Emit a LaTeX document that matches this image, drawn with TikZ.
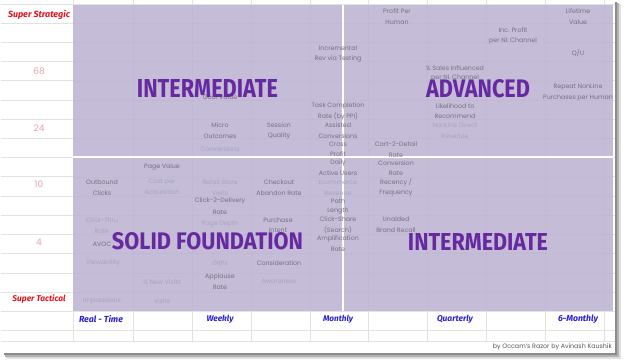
\documentclass[tikz,border=0pt]{standalone}
\usepackage{fontspec}
\setmainfont{Poppins}
\newfontfamily\brushfont{Fira Sans}
\newfontfamily\handfont{Fira Sans}
\usetikzlibrary{positioning}

\definecolor{quad}{HTML}{C5BCD8}
\definecolor{quadgrid}{HTML}{B7ADCB}
\definecolor{metric}{HTML}{77707F}
\definecolor{faint}{HTML}{A3A6C0}
\definecolor{bigpurple}{HTML}{6629A0}
\definecolor{tacred}{HTML}{E3131C}
\definecolor{scorepink}{HTML}{E6A2AB}
\definecolor{freqblue}{HTML}{2B22CF}
\definecolor{sheetgrid}{HTML}{E2E2E2}
\definecolor{credit}{HTML}{555555}

\tikzset{
  metric/.style={text=metric, font=\fontsize{6.3}{7}\selectfont, inner sep=0pt},
  faintmetric/.style={metric, text=faint},
  bigword/.style={text=bigpurple, inner sep=0pt},
  scalelabel/.style={text=tacred, inner sep=0pt},
  scorelabel/.style={text=scorepink, font=\fontsize{9}{9}\selectfont, inner sep=0pt},
  freqlabel/.style={text=freqblue, inner sep=0pt},
}

% one metric name per line of a cell
\newcommand{\mtr}[4]{\node[metric] (#1) at (#2,#3) {#4};}
\newcommand{\fmtr}[4]{\node[faintmetric] (#1) at (#2,#3) {#4};}

\begin{document}
\begin{tikzpicture}[x=1pt,y=-1pt]
\useasboundingbox (0,0) rectangle (625,361);
\fill[white] (0,0) rectangle (625,361);

% sheet with its drop shadow
\fill[black!12] (6,4) rectangle (621,359);
\fill[black!30] (5,3) rectangle (619,357);
\fill[black!45] (4,2) rectangle (617,355);
\fill[white] (1,0) rectangle (615,353);

% spreadsheet cell grid
\foreach \k in {0,...,16} {
  \draw[sheetgrid, line width=0.6pt] (1,4+19.2*\k) -- (615,4+19.2*\k);
}
\draw[sheetgrid, line width=0.6pt] (1,330.4) -- (615,330.4);
\draw[sheetgrid, line width=0.6pt] (1,341.5) -- (615,341.5);
\foreach \cx in {73,133,192,251,310,368,427,486,545,604} {
  \draw[sheetgrid, line width=0.6pt] (\cx,0) -- (\cx,341.5);
}

% the four quadrants
\fill[quad] (73,5) rectangle (613,311);
\foreach \k in {1,...,15} {
  \draw[quadgrid, line width=0.4pt, opacity=0.25] (73,4+19.2*\k) -- (613,4+19.2*\k);
}
\foreach \cx in {133,192,251,310,368,427,486,545,604} {
  \draw[quadgrid, line width=0.4pt, opacity=0.25] (\cx,5) -- (\cx,311);
}
\draw[white, line width=1.6pt] (343,5) -- (343,311);
\draw[white, line width=1.6pt] (73,157) -- (613,157);

% left scale
\node[scalelabel] (strategic) at (39,15) {\resizebox{62pt}{!}{\handfont\itshape\bfseries Super Strategic}};
\node[scorelabel] (s68) at (39,71) {68};
\node[scorelabel] (s24) at (39,128) {24};
\node[scorelabel] (s10) at (39,184) {10};
\node[scorelabel] (s4) at (39,242) {4};
\node[scalelabel] (tactical) at (39,299) {\resizebox{53pt}{!}{\handfont\itshape\bfseries Super Tactical}};

% bottom frequency scale
\node[freqlabel] (realtime) at (101,319) {\resizebox{44pt}{!}{\handfont\itshape\bfseries Real - Time}};
\node[freqlabel] (weekly) at (220,319) {\resizebox{27pt}{!}{\handfont\itshape\bfseries Weekly}};
\node[freqlabel] (monthly) at (338,319) {\resizebox{30pt}{!}{\handfont\itshape\bfseries Monthly}};
\node[freqlabel] (quarterly) at (455,319) {\resizebox{36pt}{!}{\handfont\itshape\bfseries Quarterly}};
\node[freqlabel] (sixmonthly) at (578,319) {\resizebox{40pt}{!}{\handfont\itshape\bfseries 6-Monthly}};

% credit line
\node[text=credit, inner sep=0pt, anchor=east] (creditline) at (612,347)
  {\resizebox{119pt}{!}{by Occam's Razor by Avinash Kaushik}};

% metrics, top left
\mtr{inca}{338}{48}{Incremental}
\mtr{incb}{338}{59}{Rev via Testing}
\mtr{goal}{220}{97}{Goal Value}
\mtr{microa}{220}{125}{Micro}
\mtr{microb}{220}{136}{Outcomes}
\fmtr{convs}{220}{149}{Conversions}
\mtr{sessa}{279}{125}{Session}
\mtr{sessb}{279}{136}{Quality}

% metrics, centre column
\mtr{taska}{338}{106}{Task Completion}
\mtr{taskb}{338}{116.5}{Rate (by PPI)}
\mtr{assa}{338}{125}{Assisted}
\mtr{assb}{338}{136}{Conversions}
\mtr{crossa}{338}{144}{Cross}
\mtr{crossb}{338}{154}{Profit}
\mtr{daua}{338}{163}{Daily}
\mtr{daub}{338}{173}{Active Users}
\fmtr{ecoma}{338}{182}{Ecommerce}
\fmtr{ecomb}{338}{193}{Revenue}
\mtr{patha}{338}{201}{Path}
\mtr{pathb}{338}{211}{Length}
\mtr{clsa}{338}{219}{Click-Share}
\mtr{clsb}{338}{230}{(Search)}
\mtr{ampa}{338}{239}{Amplification}
\mtr{ampb}{338}{249}{Rate}

% metrics, column right of centre
\mtr{ppha}{397}{11}{Profit Per}
\mtr{pphb}{397}{22}{Human}
\mtr{ctda}{396}{144}{Cart-2-Detail}
\mtr{ctdb}{396}{155}{Rate}
\mtr{cvra}{396}{163}{Conversion}
\mtr{cvrb}{396}{173}{Rate}
\mtr{recfa}{396}{182}{Recency /}
\mtr{recfb}{396}{193}{Frequency}
\mtr{ubra}{396}{219}{Unaided}
\mtr{ubrb}{396}{230}{Brand Recall}

% metrics, top right
\mtr{salesa}{455}{68}{\% Sales Influenced}
\mtr{salesb}{455}{78}{per NL Channel}
\mtr{ltra}{455}{106}{Likelihood to}
\mtr{ltrb}{455}{116.5}{Recommend}
\fmtr{nldra}{455}{125}{NonLine Direct}
\fmtr{nldrb}{455}{136}{Revenue}
\mtr{incpa}{513}{30}{Inc. Profit}
\mtr{incpb}{513}{41}{per NL Channel}
\mtr{ltva}{578}{11}{Lifetime}
\mtr{ltvb}{578}{22}{Value}
\mtr{qu}{578}{53}{Q/U}
\mtr{repa}{578}{87}{Repeat NonLine}
\mtr{repb}{578}{98}{Purchases per Human}

% metrics, bottom left
\mtr{pagev}{162}{167}{Page Value}
\mtr{outa}{102}{182}{Outbound}
\mtr{outb}{102}{193}{Clicks}
\fmtr{cpaa}{162}{182}{Cost per}
\fmtr{cpab}{162}{193}{Acquisition}
\fmtr{ctra}{102}{220}{Click-Thru}
\fmtr{ctrb}{102}{231}{Rate}
\mtr{avoc}{102}{244}{AVOC}
\fmtr{viewab}{103}{263}{Viewability}
\fmtr{newv}{162}{282}{\% New Visits}
\fmtr{impr}{102}{301}{Impressions}
\fmtr{visits}{162}{301}{Visits}
\fmtr{rsva}{220}{182}{Retail Store}
\fmtr{rsvb}{220}{193}{Visits}
\mtr{c2da}{220}{201}{Click-2-Delivery}
\mtr{c2db}{220}{212}{Rate}
\fmtr{pdepth}{220}{224}{Page Depth}
\fmtr{grps}{220}{263}{GRPs}
\mtr{appla}{220}{277}{Applause}
\mtr{applb}{220}{287}{Rate}
\mtr{chka}{279}{182}{Checkout}
\mtr{chkb}{279}{193}{Abandon Rate}
\mtr{pura}{278}{220}{Purchase}
\mtr{purb}{278}{230}{Intent}
\mtr{consid}{279}{263}{Consideration}
\fmtr{aware}{279}{281}{Awareness}

% quadrant titles
\node[bigword] (tlq) at (207.5,89) {\resizebox{141pt}{18pt}{\brushfont\bfseries INTERMEDIATE}};
\node[bigword] (trq) at (478,89) {\resizebox{104pt}{18pt}{\brushfont\bfseries ADVANCED}};
\node[bigword] (blq) at (207.5,241.5) {\resizebox{191pt}{17pt}{\brushfont\bfseries SOLID FOUNDATION}};
\node[bigword] (brq) at (478,241.5) {\resizebox{140pt}{17pt}{\brushfont\bfseries INTERMEDIATE}};
\end{tikzpicture}
\end{document}
